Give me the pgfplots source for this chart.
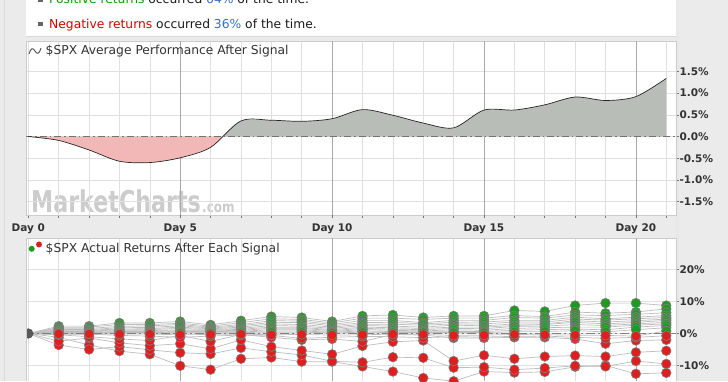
\documentclass[border=0pt]{standalone}
\usepackage{fontspec}
\setmainfont{DejaVu Sans}
\usepackage{pgfplots}
\pgfplotsset{compat=1.18}
\usepackage{pgfplotstable}

\definecolor{bg}{HTML}{EBEBEB}
\definecolor{areagray}{HTML}{B9BDB8}
\definecolor{areapink}{HTML}{F2B8B8}
\definecolor{posgreen}{HTML}{1E9A1E}
\definecolor{negred}{HTML}{E01E1E}
\definecolor{txtgreen}{HTML}{0A9A0A}
\definecolor{txtred}{HTML}{D40000}
\definecolor{txtblue}{HTML}{3A6EBB}
\definecolor{gridlight}{HTML}{E0E0E0}
\definecolor{griddark}{HTML}{A8A8A8}
\definecolor{labelgray}{HTML}{333333}
\definecolor{retline}{HTML}{BDBDBD}

\pgfplotstableread{
day avg
0 0
1 -0.09
2 -0.31
3 -0.57
4 -0.60
5 -0.49
6 -0.25
7 0.36
8 0.375
9 0.35
10 0.41
11 0.62
12 0.49
13 0.31
14 0.20
15 0.61
16 0.61
17 0.73
18 0.91
19 0.83
20 0.92
21 1.34
}\avgdata

\pgfplotstableread{
day avg
0 0
1 -0.09
2 -0.31
3 -0.57
4 -0.60
5 -0.49
6 -0.25
6.4 0
}\avgneg

\pgfplotstableread{
day avg
6.4 0
7 0.36
8 0.375
9 0.35
10 0.41
11 0.62
12 0.49
13 0.31
14 0.20
15 0.61
16 0.61
17 0.73
18 0.91
19 0.83
20 0.92
21 1.34
}\avgpos

\pgfplotstableread{
s d0 d1 d2 d3 d4 d5 d6 d7 d8 d9 d10 d11 d12 d13 d14 d15 d16 d17 d18 d19 d20 d21
s1 0 -1.2 -3.6 -5.5 -6.5 -10.1 -11.3 -7.9 -7.5 -8.8 -8.8 -10.3 -11.9 -13.9 -14.9 -11.9 -12.2 -12.0 -10.4 -10.0 -12.6 -12.3
s2 0 -3.6 -5.0 -4.1 -5.1 -6.0 -6.4 -4.5 -5.7 -6.7 -8.7 -9.0 -7.4 -7.6 -10.7 -10.5 -11.3 -10.8 -10.1 -10.3 -8.6 -9.5
s3 0 -2.4 -1.4 -2.9 -3.8 -3.2 -4.8 -2.0 -4.1 -5.3 -6.5 -3.9 -2.6 -2.2 -8.6 -6.8 -7.9 -7.2 -6.9 -7.2 -5.9 -5.4
s4 0 -0.4 -1.0 -1.7 -2.2 -0.6 -2.5 -0.3 -1.2 -2.0 -1.7 -2.5 -0.3 -0.5 -1.4 -1.4 -1.2 -1.2 -1.7 -3.2 -2.2 -2.0
s5 0 -0.3 -0.2 -0.6 -0.8 -1.2 -0.8 -0.5 -0.6 -1.5 -1.2 -0.9 -1.0 -1.3 -1.0 -1.1 -0.9 -0.8 -1.2 -1.5 -1.2 -0.7
g1 0 2.3 2.3 3.3 3.3 3.75 2.7 4.0 5.3 5.0 3.75 5.5 5.8 5.0 5.5 5.5 7.2 6.9 8.75 9.5 9.5 8.75
g2 0 1.9 2.0 2.8 2.8 3.2 2.3 3.4 4.6 4.4 3.3 4.8 4.8 4.4 4.8 4.8 5.6 5.3 6.7 6.35 6.7 7.7
g3 0 1.6 1.6 2.2 2.4 2.8 2.0 2.8 4.0 3.9 2.8 4.1 4.1 3.4 4.1 4.1 5.0 4.8 5.8 5.6 6.0 6.5
g4 0 1.25 1.25 1.8 1.9 2.4 1.7 2.4 3.5 3.4 2.4 3.4 3.5 3.0 3.5 3.6 4.1 4.1 5.1 4.6 5.1 5.6
g5 0 1.0 1.0 1.4 1.5 2.0 1.45 2.0 3.0 2.8 2.0 2.9 2.9 2.6 3.0 3.0 3.6 3.6 4.5 4.2 4.6 5.0
g6 0 0.8 0.8 1.1 1.2 1.6 1.2 1.6 2.5 2.3 1.6 2.5 2.3 2.0 2.6 2.4 3.0 3.0 4.0 3.6 4.0 4.5
g7 0 0.6 0.6 0.9 0.9 1.15 1.0 1.3 2.0 1.9 1.2 2.0 1.8 1.6 2.0 2.0 2.5 2.8 3.5 3.0 3.5 4.1
g8 0 0.4 0.4 0.6 0.6 0.9 0.8 1.0 1.6 1.6 0.9 1.6 1.4 1.2 1.6 1.5 2.2 2.3 2.8 2.5 3.0 3.5
g9 0 0.3 0.3 0.4 0.4 0.6 0.6 0.7 1.2 1.2 0.6 1.25 1.0 0.8 1.15 1.0 1.6 1.8 2.0 2.0 2.6 3.0
g10 0 0.2 0.2 0.3 0.3 0.4 0.4 0.5 0.8 0.8 0.4 0.8 0.6 0.5 0.6 0.6 1.0 1.2 1.4 1.15 2.0 2.5
g11 0 0.1 0.1 0.15 0.15 0.2 0.2 0.3 0.4 0.4 0.2 0.4 0.3 0.3 0.3 0.3 0.5 0.6 0.9 0.5 1.2 1.8
g12 0 -0.1 -0.15 -0.2 -0.2 -0.4 -0.3 -0.2 -0.4 -0.3 -0.5 -0.4 -0.2 -0.3 -0.6 -0.5 -0.3 -0.4 -0.5 -0.6 -0.8 0.8
}\rawreturns
\pgfplotstabletranspose[colnames from=s]{\returns}{\rawreturns}

\pgfplotsset{
  panel/.style={
    scale only axis, width=650pt, anchor=south west,
    xmin=-0.076, xmax=21.32,
    xtick={0,...,21},
    grid=major,
    major grid style={gridlight, line width=0.6pt},
    extra x ticks={5,10,15,20},
    extra x tick labels={},
    axis line style={black!20},
    ytick pos=right,
    yticklabel pos=right,
    tick align=outside,
    major tick length=3pt,
    tick style={black!55, line width=0.6pt},
    /pgf/number format/assume math mode=true,
    ticklabel style={font=\bfseries\fontsize{10.5}{12}\selectfont, text=labelgray},
    yticklabel style={anchor=west, xshift=-3pt},
  }
}

\begin{document}
\begin{tikzpicture}
\fill[bg] (0pt,0pt) rectangle (728pt,381pt);
\draw[black!14, line width=1pt] (4.5pt,0pt) -- (4.5pt,381pt);
\fill[black!9] (676pt,0pt) rectangle (679pt,381pt);
\fill[white] (26pt,345pt) rectangle (676pt,381pt);
\draw[black!15] (26pt,345pt) -- (676pt,345pt);
% white plot areas of both panels
\fill[white] (26pt,166pt) rectangle (676pt,340pt);
\fill[white] (26pt,0pt) rectangle (676pt,143pt);

% legend text (first line is cut by the top edge, as in the reference)
\begin{scope}
\clip (0pt,0pt) rectangle (728pt,381pt);
\fill[black!60, overlay] (38pt,379pt) rectangle (42.5pt,383pt);
\node[overlay, anchor=base west, inner sep=0pt, font=\fontsize{12.3}{14}\selectfont, text=black!90] at (49pt,377.7pt)
  {\textcolor{txtgreen}{Positive returns} occurred \textcolor{txtblue}{64\%} of the time.};
\end{scope}
\fill[black!60] (38pt,355.3pt) rectangle (42.5pt,359.8pt);
\node[anchor=base west, inner sep=0pt, font=\fontsize{12.3}{14}\selectfont, text=black!90] at (49pt,352.7pt)
  {\textcolor{txtred}{Negative returns} occurred \textcolor{txtblue}{36\%} of the time.};

% watermark (behind the upper panel's plots)
\node[anchor=base west, inner sep=0pt, text=black!20, font=\bfseries\fontsize{30}{31}\selectfont] at (31pt,169pt)
  {\scalebox{0.74}[1]{MarketCharts}};
\node[anchor=base west, inner sep=0pt, text=black!20, font=\bfseries\fontsize{15}{16}\selectfont] at (202pt,169pt)
  {\scalebox{0.8}[1]{.com}};

% upper panel
\begin{axis}[panel, at={(26pt,166pt)}, height=174pt,
  ymin=-1.82, ymax=2.19,
  xtick pos=bottom,
  extra x tick style={grid=major, major grid style={griddark, line width=0.6pt}},
  ytick={-1.5,-1,-0.5,0,0.5,1,1.5},
  yticklabel={\pgfmathprintnumber[fixed,fixed zerofill,precision=1]{\tick}\%},
  xticklabels={Day 0,,,,,Day 5,,,,,Day 10,,,,,Day 15,,,,,Day 20,{}},
  xticklabel style={yshift=-1.5pt},
]
\addplot[fill=areapink, draw=none, smooth] table[x=day,y=avg]{\avgneg} \closedcycle;
\addplot[fill=areagray, draw=none, smooth] table[x=day,y=avg]{\avgpos} \closedcycle;
\addplot[black!55, line width=0.8pt, dash pattern=on 7pt off 3pt on 1.5pt off 3pt] coordinates {(-0.1,0) (21.5,0)};
\addplot[black!85, line width=0.7pt, smooth] table[x=day,y=avg]{\avgdata};
\end{axis}

\draw[black!70, line width=0.9pt] (29pt,327.5pt) .. controls (31pt,334pt) and (33pt,334pt) .. (35pt,330.5pt) .. controls (37pt,327pt) and (39pt,327pt) .. (41pt,333.5pt);
\node[anchor=base west, inner sep=0pt, font=\fontsize{12.3}{14}\selectfont, text=labelgray] at (45.5pt,326.5pt)
  {\$SPX Average Performance After Signal};

% lower panel
\begin{axis}[panel, at={(26pt,0pt)}, height=143pt,
  ymin=-15, ymax=29.69,
  axis x line*=top, axis y line*=right,
  x axis line style={-}, y axis line style={-},
  xtick style={draw=none},
  extra x tick style={grid=major, major grid style={griddark, line width=0.6pt}, xtick style={draw=none}},
  ytick={-10,0,10,20},
  yticklabel={\pgfmathprintnumber{\tick}\%},
  xticklabels={},
  clip marker paths=true,
]
\pgfplotsinvokeforeach{s1,s2,s3,s4,s5,g1,g2,g3,g4,g5,g6,g7,g8,g9,g10,g11,g12}{
  \addplot[retline, line width=0.7pt] table[x expr=\coordindex, y=#1]{\returns};
}
\addplot[black!50, line width=1.8pt, dash pattern=on 9pt off 3pt on 2pt off 3pt] coordinates {(-0.1,0) (21.5,0)};
\pgfplotsinvokeforeach{s1,s2,s3,s4,s5,g1,g2,g3,g4,g5,g6,g7,g8,g9,g10,g11,g12}{
  \addplot[only marks, mark=*, mark size=4.8pt, mark options={fill=posgreen, draw=black!50, line width=0.6pt},
    y filter/.expression={y>0 ? y : nan}] table[x expr=\coordindex, y=#1]{\returns};
}
\pgfplotsinvokeforeach{s1,s2,s3,s4,s5,g1,g2,g3,g4,g5,g6,g7,g8,g9,g10,g11,g12}{
  \addplot[only marks, mark=*, mark size=4.8pt, mark options={fill=negred, draw=black!50, line width=0.6pt},
    y filter/.expression={y<0 ? y : nan}] table[x expr=\coordindex, y=#1]{\returns};
}
\addplot[only marks, mark=*, mark size=4.8pt, mark options={fill=black!65, draw=black!75}] coordinates {(0,0)};
\end{axis}
\draw[black!20] (26pt,0pt) -- (26pt,143pt);

\fill[posgreen] (31.7pt,132.7pt) circle (3pt);
\fill[negred] (39pt,137pt) circle (3pt);
\node[anchor=base west, inner sep=0pt, font=\fontsize{12.3}{14}\selectfont, text=labelgray] at (45.5pt,128.5pt)
  {\$SPX Actual Returns After Each Signal};
\end{tikzpicture}
\end{document}
